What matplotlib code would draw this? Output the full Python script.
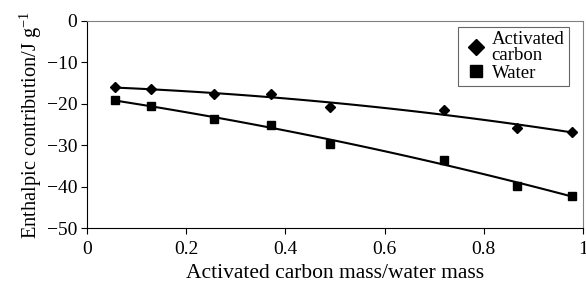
import matplotlib.pyplot as plt
import numpy as np

plt.rcParams['font.family'] = ['Liberation Serif', 'DejaVu Serif']
plt.rcParams['mathtext.fontset'] = 'custom'
plt.rcParams['mathtext.rm'] = 'Liberation Serif'

ratio = [0.057, 0.129, 0.257, 0.370, 0.489, 0.720, 0.867, 0.977]
carbon = [-16.0, -16.5, -17.7, -17.7, -20.7, -21.5, -25.8, -26.7]
water = [-19.1, -20.6, -23.6, -25.1, -29.6, -33.5, -39.8, -42.2]

fig = plt.figure(figsize=(5.86, 2.83), dpi=100)
ax = fig.add_axes([0.1485, 0.1943, 0.8464, 0.7315])

xs = np.linspace(min(ratio), max(ratio), 100)
for y, mk, ms, lab in [(carbon, 'D', 5.5, 'Activated\ncarbon'), (water, 's', 5.5, 'Water')]:
    fit = np.polyfit(ratio, y, 2)
    ax.plot(xs, np.polyval(fit, xs), color='black', lw=1.5)
    ax.plot(ratio, y, mk, color='black', ms=ms, label=lab, linestyle='none')

ax.set_xlim(0, 1)
ax.set_ylim(-50, 0)
ax.set_xticks([0, 0.2, 0.4, 0.6, 0.8, 1])
ax.set_xticklabels(['0', '0.2', '0.4', '0.6', '0.8', '1'])
ax.set_yticks([0, -10, -20, -30, -40, -50])
ax.set_yticklabels(['0', '\u221210', '\u221220', '\u221230', '\u221240', '\u221250'])
ax.tick_params(axis='x', labelsize=14, length=4, direction='out', pad=5)
ax.tick_params(axis='y', labelsize=14, length=4, direction='out', pad=3)
for s in ['top', 'right']:
    ax.spines[s].set_color('#808080')
ax.tick_params(top=False, right=False)

ax.set_xlabel('Activated carbon mass/water mass', fontsize=15.5, labelpad=5)
ax.set_ylabel('Enthalpic contribution/J g$^{-1}$', fontsize=14.7, labelpad=2)

leg = ax.legend(loc='upper right', bbox_to_anchor=(0.972, 0.972), fontsize=13.5,
                frameon=True, fancybox=False, edgecolor='#404040',
                handlelength=1.45, handletextpad=0.1, borderpad=0.25,
                labelspacing=0.05, borderaxespad=0, markerscale=1.5)
leg.get_frame().set_linewidth(0.8)
leg.get_texts()[0].set_linespacing(0.85)

fig.savefig('out.png', dpi=100)
